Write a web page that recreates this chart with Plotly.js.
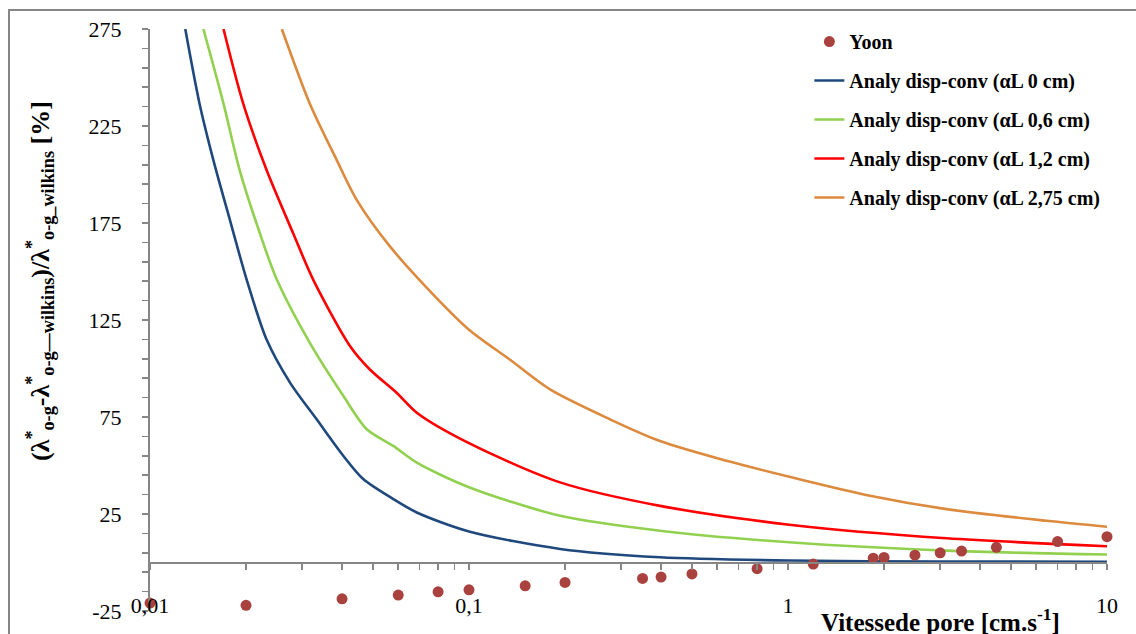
<!DOCTYPE html>
<html>
<head>
<meta charset="utf-8">
<script src="https://cdn.plot.ly/plotly-3.0.1.min.js"></script>
<style>
html,body{margin:0;padding:0;background:#fff;}
#chart{width:1136px;height:634px;}
</style>
</head>
<body>
<div id="chart"></div>
<script>
// ---- data ----
const yoonX = [0.01,0.02,0.04,0.06,0.08,0.1,0.15,0.2,0.35,0.4,0.5,0.8,1.2,1.85,2.0,2.5,3.0,3.5,4.5,7.0,10];
const yoonY = [-20.9,-22.1,-18.7,-16.8,-15.1,-14.1,-12.0,-10.3,-8.2,-7.5,-5.9,-3.2,-0.8,2.2,2.6,3.8,5.0,5.9,7.8,10.8,13.3];

const a0X = [0.0129,0.0143,0.0158,0.0178,0.0201,0.0232,0.0275,0.0333,0.0404,0.0466,0.0579,0.0686,0.1,0.193,0.397,1.01,3,10];
const a0Y = [275,236.5,207.4,176.6,145.7,114.9,92.6,73.8,54.9,43.0,32.7,25.8,16,7.0,2.7,1.0,0.5,0.4];

const a06X = [0.0147,0.017,0.0191,0.0221,0.025,0.0317,0.0404,0.0478,0.0579,0.0686,0.1,0.193,0.397,1.01,3.14,10];
const a06Y = [275,236.5,202.3,169.7,145.7,113.2,85.8,68.7,60.1,51.5,38.8,24.1,16.4,10.4,6.1,4.1];

const a12X = [0.017,0.0196,0.0232,0.0281,0.0325,0.0424,0.0489,0.0593,0.0686,0.1,0.193,0.397,1.01,3.14,10];
const a12Y = [275,236.5,202.3,169.7,145.7,111.5,99.5,87.5,77.2,61.5,41.3,29.2,19.5,12.5,8.4];

const a275X = [0.0259,0.0317,0.0385,0.0445,0.0566,0.0782,0.1,0.1345,0.1795,0.2767,0.397,0.642,1.01,1.807,3.14,6.47,10];
const a275Y = [275,236.5,207.4,186.8,162.8,137.2,120,104.5,89.2,73.8,62.6,52.4,44.2,34.4,27.5,21.5,18.4];

const seriesNames = ['Yoon','Analy disp-conv (αL 0 cm)','Analy disp-conv (αL 0,6 cm)','Analy disp-conv (αL 1,2 cm)','Analy disp-conv (αL 2,75 cm)'];
const xTickVals = [0.01,0.1,1,10];
const xTickText = ['0,01','0,1','1','10'];
const yTickVals = [-25,25,75,125,175,225,275];
const yTickText = ['-25','25','75','125','175','225','275'];

// ---- styling ----
const FONT = "'Liberation Serif', 'Times New Roman', serif";
const GRAY = '#868686';
const minorX = [];
[0.01,0.1,1].forEach(d => { for (let k=1;k<10;k++) minorX.push(d*k); });
minorX.push(10);

function lineTrace(x,y,name,color,rank){
  return {x:x,y:y,name:name,type:'scatter',mode:'lines',
    line:{color:color,width:2.6,shape:'spline',smoothing:0.8},legendgroup:'g'+rank,legendrank:rank,hoverinfo:'skip'};
}
const data = [
  lineTrace(a0X,a0Y,seriesNames[1],'#1F497D',2),
  lineTrace(a06X,a06Y,seriesNames[2],'#92D050',3),
  lineTrace(a12X,a12Y,seriesNames[3],'#FF0000',4),
  lineTrace(a275X,a275Y,seriesNames[4],'#DC8A3E',5),
  {x:yoonX,y:yoonY,name:seriesNames[0],type:'scatter',mode:'markers',xaxis:'x2',
   marker:{color:'#A9423F',size:11},legendgroup:'g1',legendrank:1,cliponaxis:false,hoverinfo:'skip'}
];

const layout = {
  width:1136, height:634,
  margin:{l:150,r:29,t:29,b:23,pad:0},
  paper_bgcolor:'#fff', plot_bgcolor:'#fff',
  font:{family:FONT,color:'#000',size:22},
  showlegend:true,
  legend:{x:0.689,y:1.012,xanchor:'left',yanchor:'top',bgcolor:'rgba(0,0,0,0)',
    font:{family:FONT,size:20,weight:'bold',color:'#000'},traceorder:'grouped',tracegroupgap:10},
  xaxis:{type:'log',range:[-2,1],anchor:'free',position:25/300,
    showline:true,linecolor:GRAY,linewidth:2,ticks:'outside',ticklen:6,tickwidth:1.5,tickcolor:GRAY,
    tickmode:'array',tickvals:minorX,showticklabels:false,showgrid:false,zeroline:false,automargin:false},
  xaxis2:{type:'log',range:[-2,1],overlaying:'x',anchor:'free',position:0.036,side:'bottom',
    showline:false,ticks:'',tickmode:'array',tickvals:xTickVals,ticktext:xTickText,
    tickfont:{family:FONT,size:22,color:'#000'},showgrid:false,zeroline:false,automargin:false},
  yaxis:{range:[-25,275],tickmode:'array',tickvals:yTickVals,ticktext:yTickText,
    ticks:'outside',ticklen:6,tickwidth:1.5,tickcolor:GRAY,
    showline:true,linecolor:GRAY,linewidth:2,showgrid:false,zeroline:false,ticklabelstandoff:16,
    tickfont:{family:FONT,size:22,color:'#000'},automargin:false,
    minor:{tickmode:'linear',tick0:-25,dtick:10,ticks:'outside',ticklen:6,tickwidth:1.5,tickcolor:GRAY,showgrid:false}},
  annotations:[
    {text:'(λ<sup>*</sup><sub>o-g</sub>-λ<sup>*</sup><sub>o-g—wilkins</sub>)/λ<sup>*</sup><sub>o-g_wilkins</sub> [%]',
     xref:'paper',yref:'paper',x:(40-150)/957,y:(611-281)/582,textangle:-90,showarrow:false,
     xanchor:'center',yanchor:'middle',font:{family:FONT,size:26,weight:'bold',color:'#000'}},
    {text:'Vitessede pore [cm.s<sup>-1</sup>]',xref:'paper',yref:'paper',x:(940-150)/957,y:(611-620)/582,
     showarrow:false,xanchor:'center',yanchor:'middle',font:{family:FONT,size:25,weight:'bold',color:'#000'}}
  ],
  shapes:[
    {type:'rect',xref:'paper',yref:'paper',x0:(9-150)/957,x1:1.2,y0:-0.2,y1:1+(29-10)/582,
     line:{color:GRAY,width:2},fillcolor:'rgba(0,0,0,0)',layer:'above'}
  ]
};

Plotly.newPlot('chart',data,layout,{displayModeBar:false,staticPlot:true});
</script>
</body>
</html>
